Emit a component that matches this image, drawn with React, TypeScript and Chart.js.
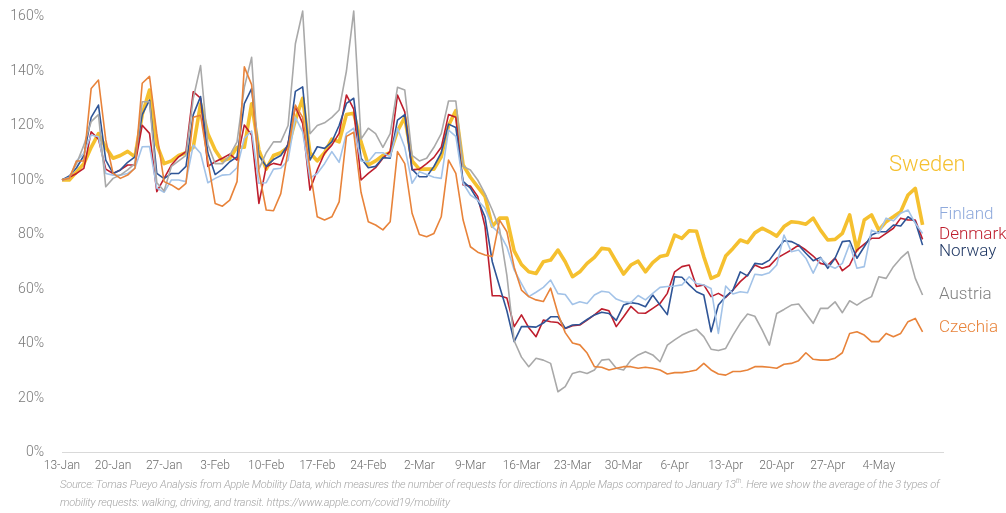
import React, { useEffect, useRef } from "react";
import { Chart, registerables } from "chart.js";
Chart.register(...registerables);

// Tick labels, one per week starting 13-Jan (day 0)
const tickLabels = ["13-Jan", "20-Jan", "27-Jan", "3-Feb", "10-Feb", "17-Feb", "24-Feb", "2-Mar", "9-Mar", "16-Mar", "23-Mar", "30-Mar", "6-Apr", "13-Apr", "20-Apr", "27-Apr", "4-May"];
const yTicks = [0, 20, 40, 60, 80, 100, 120, 140, 160];

// Daily values (% of 13-Jan), 13-Jan .. 10-May
const sweden = [100, 100, 103, 106, 112, 117, 112, 108, 109, 110.5, 108.5, 124, 133, 113, 106, 107, 109, 110, 112, 128, 117, 111, 107, 108, 112, 112, 128, 111, 104, 109, 110, 112, 122, 130, 110, 107, 110, 115, 114, 124, 124.5, 114, 105.5, 107, 109, 110, 118, 123, 107, 104, 104, 104, 108.5, 120, 125.5, 105.5, 101, 97.5, 94, 83, 86, 86, 74, 69, 66.3, 65.7, 70, 70.6, 74.3, 70, 64.5, 66.3, 69.4, 71.6, 74.9, 74.6, 70, 65.5, 68.8, 70.2, 66.3, 69.7, 71.9, 72.5, 79.8, 78.6, 81.4, 81.2, 71.9, 63.9, 65.1, 72.1, 74.9, 78, 77, 80.6, 82.3, 81, 79.4, 82.9, 84.7, 84.4, 83.8, 86, 81.6, 78, 78.2, 80.4, 87.2, 74.3, 85.3, 87.2, 81.6, 84.7, 86.5, 88.4, 94.5, 96.9, 83.5];
const finland = [100, 100.6, 107, 109.8, 116.5, 115.9, 102.4, 101.8, 101.8, 102.4, 104.3, 112.2, 112.3, 97, 95.5, 100, 100, 99.4, 112.8, 109.8, 99, 100.6, 101.8, 102, 104.5, 115.3, 118, 98.8, 99, 104, 104.3, 107.3, 123, 117.7, 100.7, 102.4, 106, 110.4, 106.5, 117.1, 119, 107, 106.7, 110, 110, 108.5, 119, 112, 98.8, 103, 102, 101, 100.6, 118.3, 116, 98.8, 94.5, 92.6, 89.6, 82.9, 80.4, 75.5, 67, 62, 57.2, 58.8, 60.6, 63.3, 58.3, 58, 54.3, 55.3, 54.7, 57.8, 59.2, 58.8, 56.3, 55.3, 55, 57.6, 56, 58.4, 60.6, 60.9, 61.1, 61.5, 64.5, 62, 61.5, 60.2, 43.7, 61.1, 58.2, 59, 58.6, 65.4, 65.1, 66, 68.8, 79.8, 73.7, 74.3, 71.3, 65.8, 71.3, 68.8, 67.6, 69.4, 76.5, 67.6, 68.2, 81.6, 80.4, 86, 85, 87.8, 89, 84.1, 80.4];
const denmark = [100, 101, 102.4, 104.3, 117.7, 115, 104, 102.4, 103.7, 105.5, 105.5, 120.1, 117.1, 95.7, 100.6, 105.5, 108.5, 110.4, 132.4, 130, 105, 106.7, 108, 109.5, 107.3, 120.2, 116.5, 91.4, 104.9, 106.1, 105.5, 113.4, 126.9, 120.8, 96.3, 103.7, 109.8, 112.8, 117.1, 131.2, 126, 100, 102.4, 104.5, 108, 110.5, 131.2, 125, 103.7, 104, 106, 108.3, 112, 124, 123, 98.2, 97.8, 94, 83, 57.5, 57.5, 56.7, 46.2, 50.5, 45.8, 42.5, 48.6, 48, 47.7, 45.5, 46.5, 46.8, 48.6, 50.5, 52.7, 52, 46.2, 49.8, 53.6, 51.2, 51.1, 52.9, 54.7, 58.4, 66.3, 68.2, 68.8, 60.9, 61.5, 57.2, 58.4, 56.9, 59.6, 62.7, 65.1, 68.8, 67.6, 68.4, 71.3, 72.8, 74.3, 76.1, 74.3, 72.1, 69.4, 68.8, 71.3, 66.7, 68.8, 74.3, 76.5, 78.6, 78.6, 80.4, 82.3, 86, 85.3, 85.3, 78.2];
const norway = [100, 101.5, 104.5, 109, 123, 127.5, 107.3, 102.4, 103.7, 106.5, 108.5, 124, 129.3, 102.4, 100.5, 102.4, 102.4, 105, 124, 130.6, 110, 102, 104, 106.7, 108.5, 128, 133.5, 109, 105, 107.5, 109, 113, 132.5, 134.2, 107.3, 112.2, 111.6, 114, 120, 128.1, 130, 108, 104.5, 105, 108.2, 108, 122, 124, 104, 101.2, 101.2, 105, 110, 120.5, 119.3, 99.5, 97, 92.6, 86.5, 70, 60.9, 52, 40.7, 46.2, 46.2, 46, 47.5, 49.8, 49.8, 45.6, 46.8, 47, 48.8, 50.5, 51.5, 51, 48.5, 54.1, 55, 54.6, 53.5, 57.8, 54.1, 50.6, 64.5, 64.3, 61.5, 59, 57.8, 44.3, 54.1, 57.2, 59.6, 66.3, 64.8, 69.4, 69.1, 70.6, 74.3, 77.7, 77.4, 76.1, 73.1, 70.4, 71.6, 67.6, 71.3, 77.4, 77.7, 71.3, 75.5, 79.8, 81, 81, 83.5, 83.1, 86.5, 84.7, 76.1];
const austria = [100, 101, 106, 112.8, 121.4, 124, 97.5, 100.6, 101.8, 103.7, 106, 128.7, 128.7, 99, 96, 105, 107, 109, 130, 142, 113, 106, 106, 109, 114, 134, 145, 104, 110, 114, 114, 120, 150, 162, 117, 120, 121, 123, 125.7, 140, 162, 115, 119, 117, 112, 117, 134, 133, 109, 107, 108, 112, 117, 129, 129, 105, 103.7, 100, 95, 89, 82, 65, 41, 35, 31.5, 34.6, 33.9, 32.7, 22.3, 24.2, 29, 29.7, 29, 30.3, 33.9, 34.2, 30.9, 30.3, 33.9, 35.8, 37, 35.8, 33.3, 39.4, 41.3, 43.1, 44.3, 45.2, 42.5, 37.9, 37.4, 38.2, 43.1, 47.4, 50.8, 50, 45, 39.4, 51, 52.5, 54.1, 54.5, 51, 47.4, 52.9, 52.9, 55.3, 51.3, 55.7, 54.1, 55.9, 57.2, 64.5, 63.9, 68.2, 71.3, 73.7, 63.9, 57.8];
const czechia = [100, 100.6, 107, 107, 133.6, 136.7, 114.7, 102.4, 100.6, 101.8, 104.3, 135.5, 138, 117, 99.4, 98.2, 96.5, 98.8, 123, 123.8, 107, 91.4, 90.4, 92.6, 99.4, 141.5, 135, 103, 89, 88.7, 95, 111, 127.5, 123, 104, 86.5, 85.3, 86.5, 92, 116, 117.5, 95.5, 84.7, 83.5, 81.7, 84.7, 110.4, 106, 87.8, 80, 79.2, 80.4, 86.5, 107.3, 102.4, 85.3, 75.5, 73.5, 72.5, 71.9, 85.3, 81, 68, 59.6, 57.2, 56, 55.4, 60.3, 51, 44, 40.2, 39.5, 36.5, 31.5, 31.3, 30.3, 30.9, 31.5, 31.5, 30.9, 31.3, 30.9, 30.3, 28.8, 29.3, 29.3, 29.7, 30.3, 32.7, 30.3, 28.8, 28.4, 29.7, 29.7, 30.3, 31.5, 31.5, 31.3, 30.9, 32.4, 32.7, 33.7, 36.6, 34.2, 33.9, 33.9, 34.6, 36.6, 43.7, 44.3, 43.1, 40.7, 40.7, 43.7, 42.5, 43.7, 48, 49.2, 44.3];

const seriesNames = ["Czechia", "Austria", "Finland", "Norway", "Denmark", "Sweden"];
const seriesValues = [czechia, austria, finland, norway, denmark, sweden];
const seriesColors = ["#E8833A", "#A9A9A9", "#A3C3E8", "#2F5597", "#BE1E2D", "#F5C02F"];
const seriesWidths = [1.6, 1.6, 1.6, 1.6, 1.6, 3.6];

// Right-hand labels: text, colour, font size, anchor value on y axis, x offset from plot right
const endLabels = [
  { text: "Sweden", color: "#F5C02F", size: 22, v: 105.5, dx: -54 },
  { text: "Finland", color: "#8FAADC", size: 17, v: 87.2, dx: -4 },
  { text: "Denmark", color: "#BE1E2D", size: 17, v: 79.8, dx: -4 },
  { text: "Norway", color: "#203864", size: 17, v: 73.8, dx: -4 },
  { text: "Austria", color: "#808080", size: 17, v: 57.8, dx: -4 },
  { text: "Czechia", color: "#E8833A", size: 17, v: 45.6, dx: -4 },
];

const FONT = "Roboto, 'Liberation Sans', Arial, sans-serif";

const endLabelPlugin = {
  id: "endLabels",
  afterDatasetsDraw(chart: any) {
    const { ctx, chartArea, scales } = chart;
    ctx.save();
    ctx.textAlign = "left";
    ctx.textBaseline = "middle";
    for (const l of endLabels) {
      ctx.font = `300 ${l.size}px ${FONT}`;
      ctx.fillStyle = l.color;
      ctx.fillText(l.text, chartArea.right + l.dx, scales.y.getPixelForValue(l.v));
    }
    ctx.restore();
  },
};

export default function App() {
  const ref = useRef<HTMLCanvasElement>(null);
  useEffect(() => {
    const canvas = ref.current!;
    const datasets = seriesNames.map((name, k) => ({
      label: name,
      data: seriesValues[k].map((v, i) => ({ x: i, y: v })),
      borderColor: seriesColors[k],
      backgroundColor: seriesColors[k],
      borderWidth: seriesWidths[k],
      pointRadius: 0,
      tension: 0,
      fill: false,
      clip: false as const,
      borderJoinStyle: "round" as const,
    }));
    const chart = new Chart(canvas, {
      type: "line",
      data: { datasets },
      options: {
        animation: false,
        responsive: false,
        layout: { padding: { top: 16.5, right: 63, left: 0, bottom: 0 } },
        plugins: { legend: { display: false }, tooltip: { enabled: false } },
        scales: {
          x: {
            type: "linear",
            min: 0,
            max: 120.8,
            grid: { display: false, drawTicks: false },
            border: { display: true, color: "#D9D9D9", width: 1 },
            afterBuildTicks: (s: any) => {
              s.ticks = tickLabels.map((_, i) => ({ value: i * 7 }));
            },
            afterFit: (s: any) => {
              s.height = 60.5;
              s.paddingLeft = 0;
              s.paddingRight = 0;
            },
            ticks: {
              autoSkip: false,
              maxRotation: 0,
              padding: 6,
              color: "#6B6B6B",
              font: { family: FONT, size: 12, weight: "300" },
              callback: (v: any) => tickLabels[Math.round(Number(v) / 7)] ?? "",
            },
          },
          y: {
            min: 0,
            max: 160,
            grid: { display: false, drawTicks: false },
            border: { display: false },
            afterBuildTicks: (s: any) => {
              s.ticks = yTicks.map((v) => ({ value: v }));
            },
            afterFit: (s: any) => {
              s.width = 62;
              s.paddingTop = 0;
              s.paddingBottom = 0;
            },
            ticks: {
              padding: 18,
              color: "#7A7A7A",
              font: { family: FONT, size: 14, weight: "300" },
              callback: (v: any) => `${v}%`,
            },
          },
        },
      },
      plugins: [endLabelPlugin],
    });
    return () => chart.destroy();
  }, []);

  return (
    <div style={{ position: "fixed", left: 0, top: 0, width: 1006, height: 513, background: "#fff" }}>
      <canvas ref={ref} width={1006} height={513} style={{ display: "block", width: 1006, height: 513 }} />
      <div
        style={{
          position: "absolute",
          left: 60,
          top: 476,
          whiteSpace: "nowrap",
          fontFamily: FONT,
          fontStyle: "italic",
          fontWeight: 300,
          fontSize: 11,
          letterSpacing: "-0.2px",
          lineHeight: "18px",
          color: "#A6A6A6",
        }}
      >
        Source: Tomas Pueyo Analysis from Apple Mobility Data, which measures the number of requests for directions in Apple Maps compared to January 13<sup style={{ fontSize: 7, lineHeight: 0 }}>th</sup>. Here we show the average of the 3 types of
        <br />
        mobility requests: walking, driving, and transit. https://www.apple.com/covid19/mobility
      </div>
    </div>
  );
}
